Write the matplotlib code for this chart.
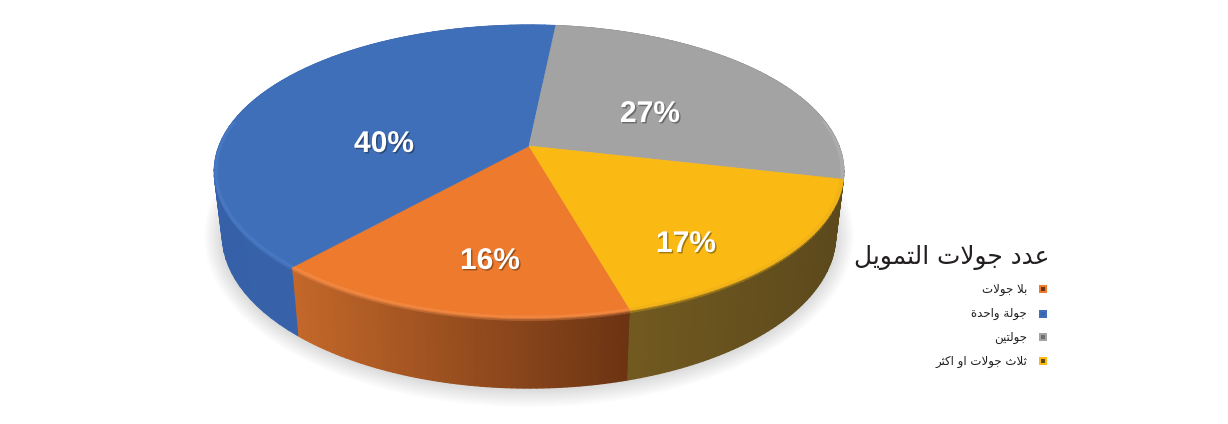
import numpy as np
import matplotlib
matplotlib.use('Agg')
import matplotlib.pyplot as plt
import matplotlib.patheffects as pe
from matplotlib.collections import PolyCollection
from matplotlib.colors import to_rgb

# Data, in legend order
categories = ['بلا جولات', 'جولة واحدة', 'جولتين', 'ثلاث جولات او اكثر']
values = [16, 40, 27, 17]
value_labels = ['16%', '40%', '27%', '17%']
title = 'عدد جولات التمويل'

# Styles
top_colors = ['#ed7a2d', '#3f6fb8', '#a3a3a3', '#fbb914']
rim_colors = ['#f59250', '#4f7fc8', '#b4b4b4', '#e6ae1a']
side_left = ['#c4682a', '#3661a8', '#6e6e6e', '#725a20']
side_right = ['#6c3413', '#3a66ae', '#6e6e6e', '#5c491c']
label_pos = [(490, 261), (384, 144), (650, 114), (686, 244)]
legend_y = [289, 314, 337, 361]

# Perspective of the pie, pixels of the figure
start_angle = 164.2  # clockwise from the top, where the first slice starts
persp = 0.174
top_face = dict(x0=529, y0=146, a=310, b=142)
bottom_face = dict(x0=529, y0=208.4, a=302, b=148.4)


def project(angle, face, r=1.0):
    # angle in degrees clockwise from the far side of the pie
    t = np.radians(angle)
    u = r * np.sin(t)
    v = r * np.cos(t)
    w = 1 + persp * v
    return face['x0'] + face['a'] * u / w, face['y0'] - face['b'] * v / w


def blend(c1, c2, f):
    c1, c2 = np.array(to_rgb(c1)), np.array(to_rgb(c2))
    return tuple(c1 + (c2 - c1) * f)


# Arabic needs shaping by hand: matplotlib has no text layout for it
FORMS = {
    'ا': (0xFE8D, 0xFE8E), 'ة': (0xFE93, 0xFE94), 'د': (0xFEA9, 0xFEAA),
    'ر': (0xFEAD, 0xFEAE), 'و': (0xFEED, 0xFEEE),
    'ب': (0xFE8F, 0xFE90, 0xFE91, 0xFE92), 'ت': (0xFE95, 0xFE96, 0xFE97, 0xFE98),
    'ث': (0xFE99, 0xFE9A, 0xFE9B, 0xFE9C), 'ج': (0xFE9D, 0xFE9E, 0xFE9F, 0xFEA0),
    'ح': (0xFEA1, 0xFEA2, 0xFEA3, 0xFEA4), 'ع': (0xFEC9, 0xFECA, 0xFECB, 0xFECC),
    'ك': (0xFED9, 0xFEDA, 0xFEDB, 0xFEDC), 'ل': (0xFEDD, 0xFEDE, 0xFEDF, 0xFEE0),
    'م': (0xFEE1, 0xFEE2, 0xFEE3, 0xFEE4), 'ن': (0xFEE5, 0xFEE6, 0xFEE7, 0xFEE8),
    'ي': (0xFEF1, 0xFEF2, 0xFEF3, 0xFEF4),
}


def shape(text):
    out = []
    prev_joins = False
    i = 0
    while i < len(text):
        c = text[i]
        if c not in FORMS:
            out.append(c)
            prev_joins = False
            i += 1
            continue
        if c == 'ل' and i + 1 < len(text) and text[i + 1] == 'ا':
            out.append(chr(0xFEFC if prev_joins else 0xFEFB))
            prev_joins = False
            i += 2
            continue
        forms = FORMS[c]
        next_letter = i + 1 < len(text) and text[i + 1] in FORMS
        if len(forms) == 4 and next_letter:
            out.append(chr(forms[3] if prev_joins else forms[2]))
            prev_joins = True
        else:
            out.append(chr(forms[1] if prev_joins else forms[0]))
            prev_joins = False
        i += 1
    return ''.join(reversed(out))


fig = plt.figure(figsize=(12.28, 4.24), dpi=100)
ax = fig.add_axes([0, 0, 1, 1])
ax.set_xlim(0, 1228)
ax.set_ylim(424, 0)
ax.axis('off')

# Soft shadow under the body
ring = np.linspace(0, 360, 241)
for s in range(18, 0, -1):
    sx, sy = project(ring, bottom_face)
    ax.fill(529 + (sx - 529) * (1 + s / 300), 235 + (sy - 235) * (1 + s / 150) + 1,
            color='k', alpha=0.009, lw=0, zorder=1)

# Slice angles from the values
total = sum(values)
edges = start_angle + np.concatenate([[0], np.cumsum(values)]) * 360 / total

# Side walls, then bevel at the rim, then the top faces
for i in range(len(values)):
    ang = np.linspace(edges[i], edges[i + 1], 60)
    tx, ty = project(ang, top_face)
    bx, by = project(ang, bottom_face)
    quads, cols = [], []
    rims, rim_cols = [], []
    x_lo, x_hi = bx.min(), bx.max()
    for j in range(len(ang) - 1):
        quads.append([(tx[j], ty[j]), (tx[j + 1], ty[j + 1]), (bx[j + 1], by[j + 1]), (bx[j], by[j])])
        f = (bx[j] - x_lo) / (x_hi - x_lo)
        side = blend(side_left[i], side_right[i], f)
        cols.append(side)
        # few pixels at the top of the wall fade from rim to wall
        for k, (d0, d1) in enumerate([(0, 0.025), (0.025, 0.05), (0.05, 0.08)]):
            rims.append([(tx[j] + (bx[j] - tx[j]) * d0, ty[j] + (by[j] - ty[j]) * d0),
                         (tx[j + 1] + (bx[j + 1] - tx[j + 1]) * d0, ty[j + 1] + (by[j + 1] - ty[j + 1]) * d0),
                         (tx[j + 1] + (bx[j + 1] - tx[j + 1]) * d1, ty[j + 1] + (by[j + 1] - ty[j + 1]) * d1),
                         (tx[j] + (bx[j] - tx[j]) * d1, ty[j] + (by[j] - ty[j]) * d1)])
            rim_cols.append(blend(rim_colors[i], side, (k + 1) / 3))
    ax.add_collection(PolyCollection(quads, facecolors=cols, edgecolors='face', linewidths=0.9, zorder=2))
    ax.add_collection(PolyCollection(rims, facecolors=rim_cols, edgecolors='face', linewidths=0.6, zorder=3))

for i in range(len(values)):
    ang = np.linspace(edges[i], edges[i + 1], 80)
    ox, oy = project(ang, top_face)
    ax.fill(np.r_[top_face['x0'], ox], np.r_[top_face['y0'], oy], color=top_colors[i], lw=0.4, zorder=4)
    # thin light band, only on the near part of the rim
    near = np.cos(np.radians(ang)) < 0.2
    if near.sum() > 1:
        ix, iy = project(ang[near][::-1], top_face, r=0.99)
        ax.fill(np.r_[ox[near], ix], np.r_[oy[near], iy], color=blend(top_colors[i], rim_colors[i], 0.5),
                lw=0.3, zorder=5)

# Value labels
for (x, y), txt in zip(label_pos, value_labels):
    ax.text(x, y, txt, color='white', fontsize=21.6, fontweight='bold', family='Liberation Sans',
            ha='center', va='center', zorder=6,
            path_effects=[pe.SimplePatchShadow(offset=(1, -1), shadow_rgbFace='k', alpha=0.35), pe.Normal()])

# Title and legend, by hand to sit right of the pie
ax.text(1049, 257, shape(title), fontsize=17.9, family='DejaVu Sans', color='#231f20',
        ha='right', va='center', zorder=6)
for i, cat in enumerate(categories):
    ax.text(1027, legend_y[i], shape(cat), fontsize=8.5, family='DejaVu Sans', color='#231f20',
            ha='right', va='center', zorder=6)
    ax.scatter([1043], [legend_y[i]], marker='s', s=28, color=top_colors[i], lw=0, zorder=6)
    ax.scatter([1043], [legend_y[i]], marker='s', s=5, color=side_right[i], lw=0, zorder=7)

fig.savefig('out.png', dpi=100, facecolor='white')
